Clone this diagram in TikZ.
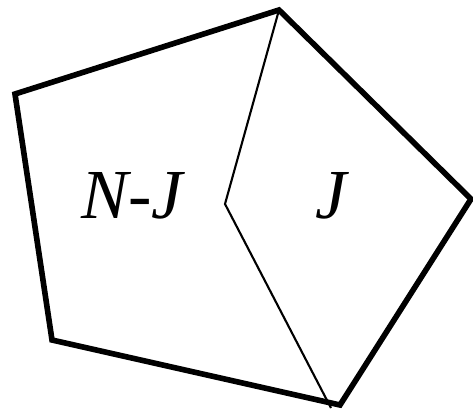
\documentclass[tikz,border=0pt]{standalone}
\usepackage{fontspec}
\newfontfamily\lblfont{Liberation Serif Italic}
\begin{document}
\begin{tikzpicture}[x=0.02cm,y=-0.02cm]
\useasboundingbox (0,0) rectangle (473,409);
\tikzset{lbl/.style={font=\fontsize{40}{46}\lblfont}}
% split line
\draw[line width=1.2pt] (279,10) -- (225,204) -- (331,408);
% outer boundary
\draw[line width=3.2pt,line join=miter] (15,94) -- (279,10) -- (471,199) -- (340,405) -- (52,340) -- cycle;
\node[lbl] (nj) at (132,196) {N-J};
\node[lbl] (j) at (331,196) {J};
\end{tikzpicture}
\end{document}
